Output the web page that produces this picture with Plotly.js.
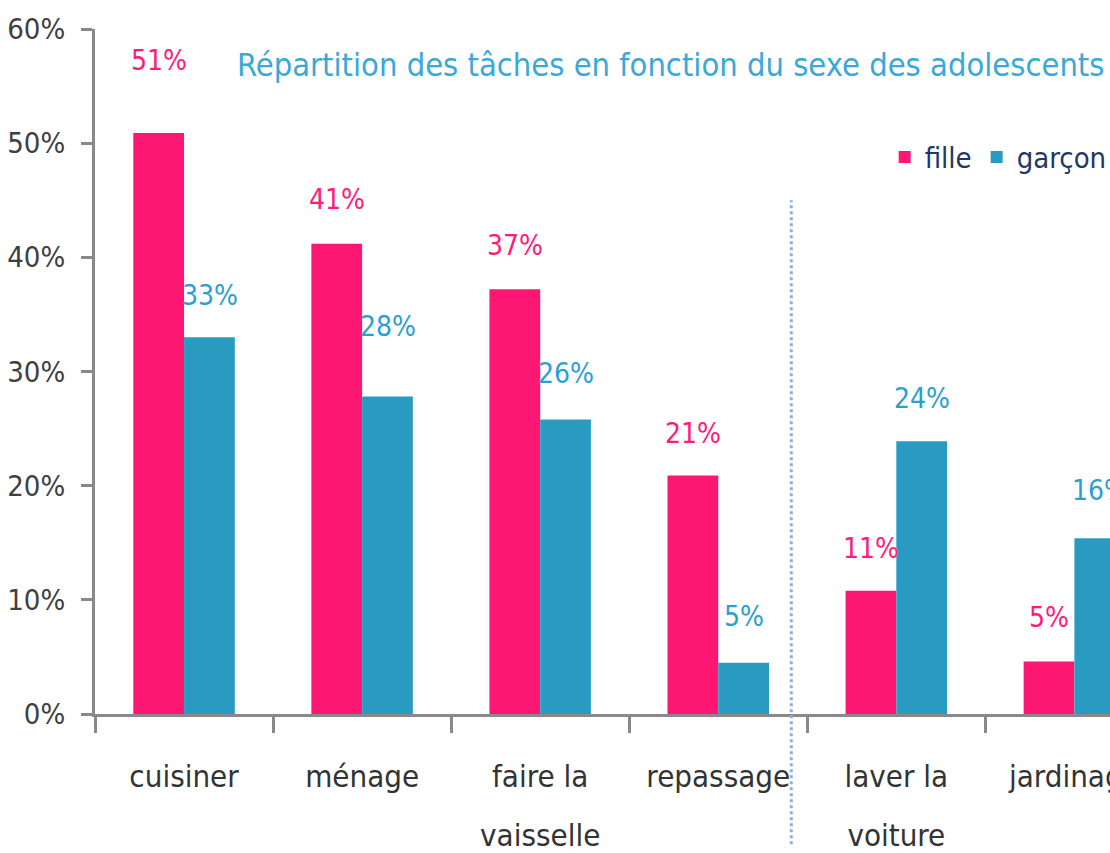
<!DOCTYPE html>
<html>
<head>
<meta charset="utf-8">
<script src="https://cdn.plot.ly/plotly-3.0.1.min.js"></script>
<style>
  html, body { margin: 0; padding: 0; background: #ffffff; }
  #chart { width: 1110px; height: 853px; }
  #chart text { font-stretch: condensed !important; }
</style>
</head>
<body>
<div id="chart"></div>
<script>
// ---- data ----
var categories = ["cuisiner", "ménage", "faire la<br>vaisselle", "repassage", "laver la<br>voiture", "jardinage"];
var filleValues = [50.9, 41.2, 37.2, 20.9, 10.8, 4.6];
var garconValues = [33.0, 27.8, 25.8, 4.5, 23.9, 15.4];
var filleLabels = ["51%", "41%", "37%", "21%", "11%", "5%"];
var garconLabels = ["33%", "28%", "26%", "5%", "24%", "16%"];
var yTickValues = [0, 10, 20, 30, 40, 50, 60];
var yTickLabels = ["0%", "10%", "20%", "30%", "40%", "50%", "60%"];
var seriesNames = ["fille", "garçon"];
var titleText = "Répartition des tâches en fonction du sexe des adolescents";

// ---- styles ----
var FONT = "'DejaVu Sans Condensed', 'DejaVu Sans', sans-serif";
var PINK = "#FC1773";
var BLUE = "#2A9BC0";
var PINK_TXT = "#FF1C7A";
var BLUE_TXT = "#2AA0D2";
var AXIS = "#898989";
var filleLift = [72, 44, 44, 42, 42, 44];
var garconLift = [42, 70, 46, 46, 43, 48];

var tickText = categories.map(function (c) {
  return c.split("<br>").map(function (line) {
    return "<span style='font-size:31px'>" + line + "</span>";
  }).join("<br>");
});

var traces = [
  { type: "bar", name: seriesNames[0], x: categories, y: filleValues,
    marker: { color: PINK }, hoverinfo: "skip" },
  { type: "bar", name: seriesNames[1], x: categories, y: garconValues,
    marker: { color: BLUE }, hoverinfo: "skip" }
];

var annotations = [];
categories.forEach(function (c, i) {
  annotations.push({ x: c, y: filleValues[i], xref: "x", yref: "y", text: filleLabels[i],
    showarrow: false, xshift: -25, yshift: filleLift[i], yanchor: "middle",
    font: { family: FONT, size: 28, color: PINK_TXT } });
  annotations.push({ x: c, y: garconValues[i], xref: "x", yref: "y", text: garconLabels[i],
    showarrow: false, xshift: 26, yshift: garconLift[i], yanchor: "middle",
    font: { family: FONT, size: 28, color: BLUE_TXT } });
});

var layout = {
  width: 1110, height: 853,
  margin: { l: 95, r: 0, t: 29, b: 139, pad: 0, autoexpand: false },
  paper_bgcolor: "#ffffff", plot_bgcolor: "#ffffff",
  font: { family: FONT, color: "#404040", size: 30 },
  barmode: "group", bargap: 0.43, bargroupgap: 0,
  title: { text: titleText, xref: "container", yref: "container",
    x: 237 / 1110, xanchor: "left", y: 1 - 65 / 853, yanchor: "middle", automargin: false,
    font: { family: FONT, size: 32.4, color: "#3AA8D8" } },
  showlegend: true,
  legend: { orientation: "h", x: 0.778, xanchor: "left", y: 0.813, yanchor: "middle",
    font: { family: FONT, size: 29, color: "#1F3864" }, bgcolor: "rgba(0,0,0,0)",
    itemwidth: 30, tracegroupgap: 0 },
  xaxis: { type: "category", range: [-0.5, 5.2], showgrid: false, zeroline: false,
    automargin: false, tickvals: categories, ticktext: tickText,
    showline: true, linecolor: AXIS, linewidth: 3,
    ticks: "outside", tickson: "boundaries", ticklen: 16, tickwidth: 3, tickcolor: AXIS,
    ticklabelstandoff: 16,
    tickfont: { family: FONT, size: 45, color: "#333333" }, fixedrange: true },
  yaxis: { range: [0, 60], tickvals: yTickValues, ticktext: yTickLabels, automargin: false,
    showgrid: false, zeroline: false, showline: true, linecolor: AXIS, linewidth: 3,
    ticks: "outside", ticklen: 11, tickwidth: 3, tickcolor: AXIS, ticklabelstandoff: 10,
    tickfont: { family: FONT, size: 29, color: "#404040" }, fixedrange: true },
  shapes: [
    { type: "line", xref: "x", yref: "paper", x0: 3.41, x1: 3.41, y0: -0.19, y1: 0.75,
      line: { color: "#8FAED8", width: 3, dash: "dot" } }
  ],
  annotations: annotations
};

Plotly.newPlot("chart", traces, layout, { displayModeBar: false, staticPlot: true });
</script>
</body>
</html>
